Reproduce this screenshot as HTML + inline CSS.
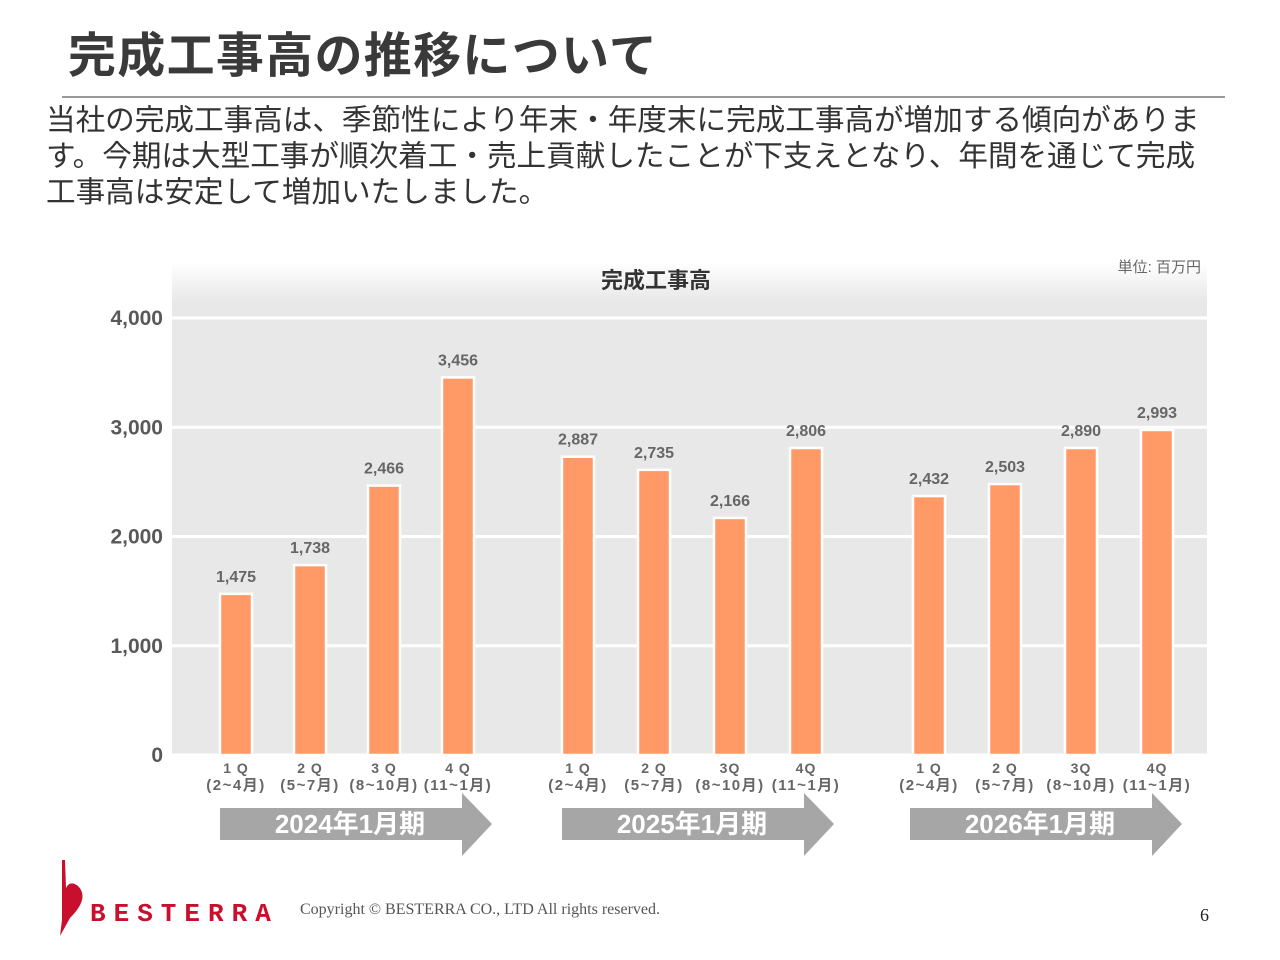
<!DOCTYPE html>
<html><head><meta charset="utf-8"><style>
body{margin:0;width:1280px;height:960px;background:#fff;position:relative;overflow:hidden;font-family:"Liberation Sans","Noto Sans CJK JP",sans-serif}
.abs{position:absolute}
</style></head><body>
<div class="abs" style="left:68px;top:16px;font-size:48px;font-weight:bold;color:#3a3a3a;letter-spacing:1.3px">完成工事高の推移について</div>
<div class="abs" style="left:62px;top:96px;width:1163px;height:2px;background:#999"></div>
<div class="abs" style="left:46px;top:103px;width:1170px;font-size:29.6px;line-height:36px;color:#333">当社の完成工事高は、季節性により年末・年度末に完成工事高が増加する傾向がありま す。今期は大型工事が順次着工・売上貢献したことが下支えとなり、年間を通じて完成 工事高は安定して増加いたしました。</div>
<svg class="abs" style="left:0;top:0" width="1280" height="960">
<defs><linearGradient id="g" x1="0" y1="0" x2="0" y2="1"><stop offset="0" stop-color="#fff"/><stop offset="1" stop-color="#e8e8e8"/></linearGradient></defs>
<rect x="172" y="262" width="1035" height="40" fill="url(#g)"/>
<rect x="172" y="302" width="1035" height="453" fill="#e8e8e8"/>
<text x="656" y="288" text-anchor="middle" font-size="22" font-weight="bold" fill="#333">完成工事高</text>
<text x="1201" y="272" text-anchor="end" font-size="15" fill="#666">単位: 百万円</text>
<g id="grid"></g><g id="bars"></g><g id="xl"></g><g id="arrows"></g>
</svg>
<div class="abs" style="left:56px;top:858px;width:240px;height:80px">
<svg width="240" height="80"><path d="M6 2 L6 62 L4 78 L14 60 Q34 40 22 28 Q14 22 10 30 L9 2 Z" fill="#c8102e"/>
<text x="34" y="63" font-size="26" fill="#c8102e" font-weight="bold" letter-spacing="8" font-family="Liberation Mono,monospace">BESTERRA</text></svg></div>
<div class="abs" style="left:300px;top:901px;font-family:'Liberation Serif',serif;font-size:16px;color:#555">Copyright © BESTERRA CO., LTD All rights reserved.</div>
<div class="abs" style="left:1200px;top:905px;font-family:'Liberation Serif',serif;font-size:18px;color:#222">6</div>
<script>
const quarters=["1 Q","2 Q","3 Q","4 Q","1 Q","2 Q","3Q","4Q","1 Q","2 Q","3Q","4Q"];
const months=["(2~4月)","(5~7月)","(8~10月)","(11~1月)","(2~4月)","(5~7月)","(8~10月)","(11~1月)","(2~4月)","(5~7月)","(8~10月)","(11~1月)"];
const barValues=[1475,1738,2466,3456,2730,2610,2170,2810,2370,2480,2810,2975];
const valueLabels=["1,475","1,738","2,466","3,456","2,887","2,735","2,166","2,806","2,432","2,503","2,890","2,993"];
const yTicks=[0,1000,2000,3000,4000];
const yTickLabels=["0","1,000","2,000","3,000","4,000"];
const periods=["2024年1月期","2025年1月期","2026年1月期"];
const NS="http://www.w3.org/2000/svg";
const y=v=>755-v*0.10925;
const slotX=i=>{const g=Math.floor(i/4),k=i%4;return [236,578,929][g]+k*[74,76,76][g];};
function mk(t,a,p,txt){const e=document.createElementNS(NS,t);for(const k in a)e.setAttribute(k,a[k]);if(txt!==undefined)e.textContent=txt;p.appendChild(e);return e;}
const grid=document.getElementById('grid'),bars=document.getElementById('bars'),xl=document.getElementById('xl'),ar=document.getElementById('arrows');
yTicks.forEach((t,i)=>{
 const l=mk('line',{x1:172,x2:1207,y1:y(t),y2:y(t),stroke:'#fff','stroke-width':3},grid);
 
 
 const tx=mk('text',{x:163,y:y(t)+7,'text-anchor':'end','font-size':21,'font-weight':'bold',fill:'#595959'},grid,yTickLabels[i]);
 
 
});
barValues.forEach((v,i)=>{
 const cx=slotX(i);
 const r=mk('rect',{x:cx-16,y:y(v),width:32,height:755-y(v),fill:'#ff9966',stroke:'#fff','stroke-width':2.5},bars);
 
 
 const t=mk('text',{x:cx,y:y(v)-12,'text-anchor':'middle','font-size':16,'font-weight':'bold',fill:'#666'},bars,valueLabels[i]);
 
 
 const q=mk('text',{x:cx,y:773,'text-anchor':'middle','font-size':14,'font-weight':'bold',fill:'#666','letter-spacing':1},xl,quarters[i]);
 
 
 const m=mk('text',{x:cx,y:790,'text-anchor':'middle','font-size':15,'font-weight':'bold',fill:'#666','letter-spacing':1.5},xl,months[i]);
 
 
});
periods.forEach((p,g)=>{
 const x0=[220,562,910][g];
 const a=mk('polygon',{points:`${x0},808 ${x0+242},808 ${x0+242},793 ${x0+272},824 ${x0+242},856 ${x0+242},840 ${x0},840`,fill:'#a6a6a6'},ar);
 
 
 const t=mk('text',{x:x0+130,y:833,'text-anchor':'middle','font-size':26,'font-weight':'bold',fill:'#fff'},ar,p);
 
 
});
</script>
</body></html>
